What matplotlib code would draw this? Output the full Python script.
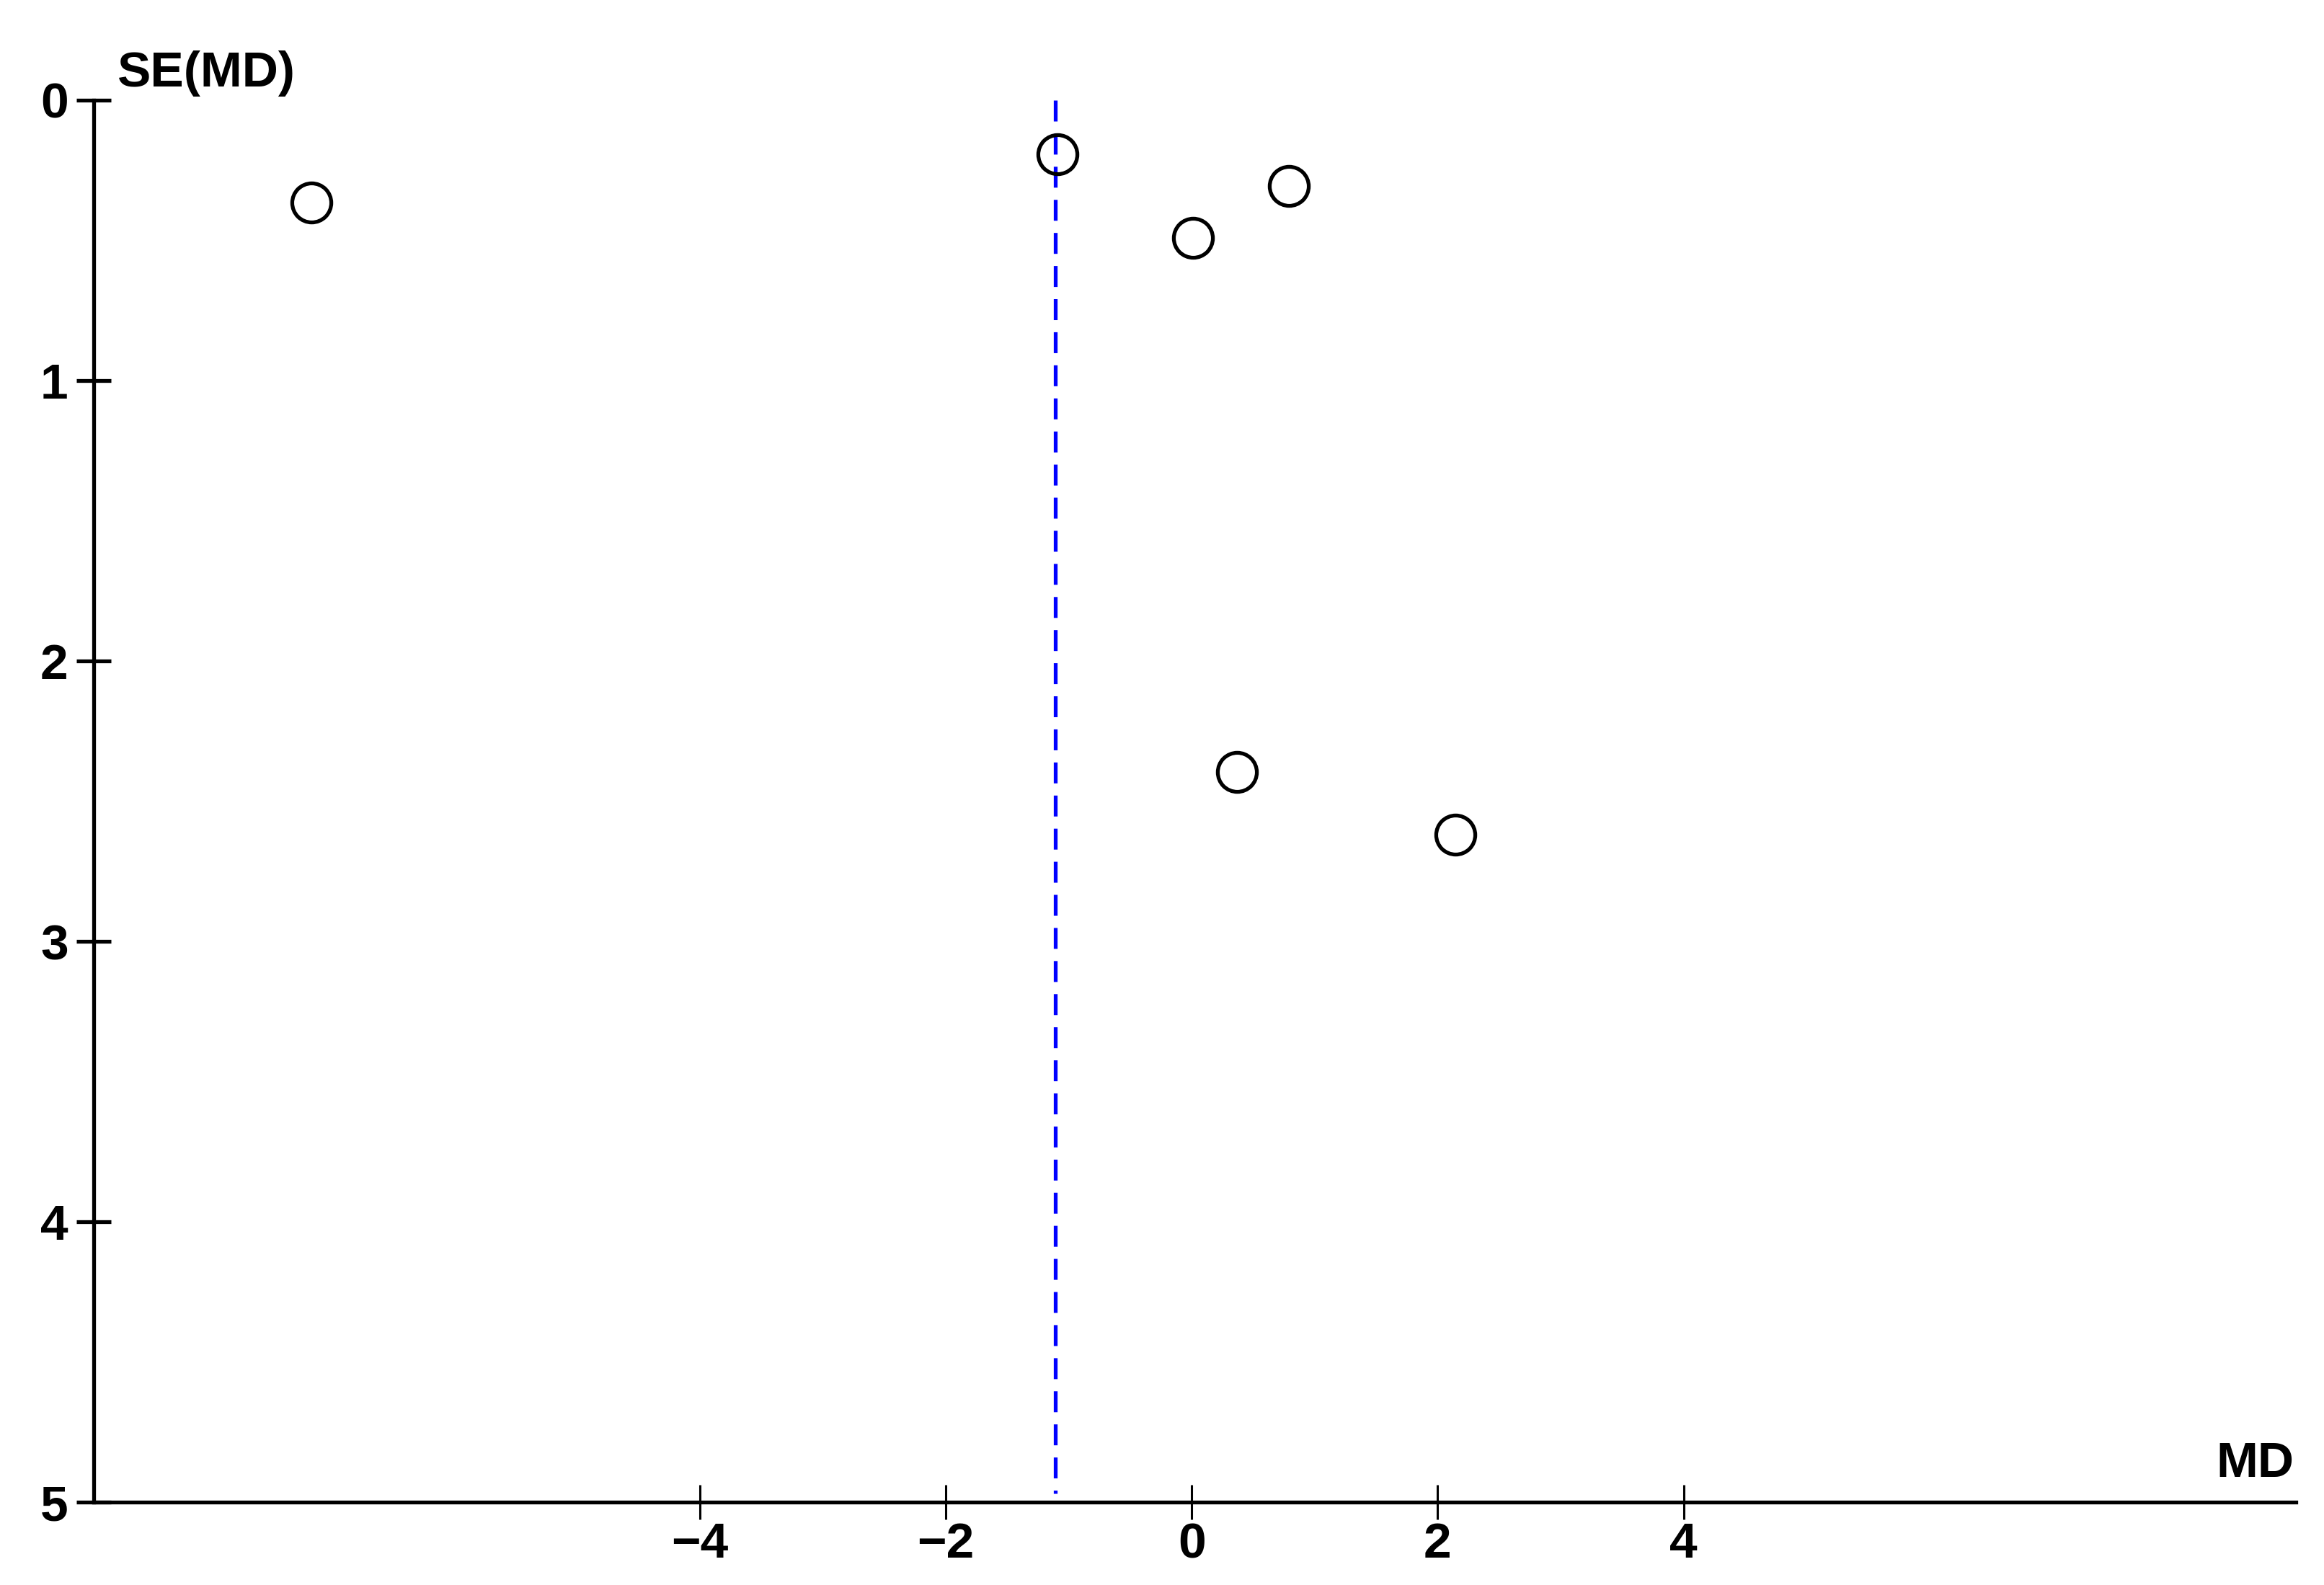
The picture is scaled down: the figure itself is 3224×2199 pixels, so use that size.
import matplotlib
matplotlib.use("Agg")
import matplotlib.pyplot as plt

# study estimates
md = [-7.16, -1.09, 0.79, 0.01, 0.37, 2.145]
se_md = [0.365, 0.193, 0.306, 0.49, 2.396, 2.62]
pooled_md = -1.11

xticks = [-4, -2, 0, 2, 4]
yticks = [0, 1, 2, 3, 4, 5]

plt.rcParams['font.family'] = ['Liberation Sans', 'DejaVu Sans']
plt.rcParams['font.weight'] = 'bold'

fig = plt.figure(figsize=(16.12, 10.995), dpi=200)
ax = fig.add_axes([130/3224, 1 - 2084/2199, (3185-130)/3224, (2084-139)/2199])

ax.vlines(pooled_md, 0, 4.97, colors='blue', linestyles=(0, (5.5, 3.2)), linewidth=1.9)
ax.plot(md, se_md, 'o', ms=19.5, mfc='none', mec='black', mew=1.9, clip_on=False)

ax.set_xlim(-8.93, 8.98)
ax.set_ylim(5, 0)
ax.set_xticks(xticks)
ax.set_xticklabels(['\u2212' + str(-t) if t < 0 else str(t) for t in xticks])
ax.set_yticks(yticks)

for s in ['top', 'right']:
    ax.spines[s].set_visible(False)
for s in ['left', 'bottom']:
    ax.spines[s].set_linewidth(1.9)

ax.tick_params(direction='inout', length=17.5, width=1.1, labelsize=25, colors='black')
ax.tick_params(axis='y', width=1.9, pad=4)
ax.tick_params(axis='x', pad=1)

fig.text(163/3224, 1 - 120/2199, 'SE(MD)', fontsize=25, fontweight='bold', ha='left', va='baseline')
fig.text(3182/3224, 1 - 2049/2199, 'MD', fontsize=25, fontweight='bold', ha='right', va='baseline')

fig.savefig('out.png', dpi=200, facecolor='white')
